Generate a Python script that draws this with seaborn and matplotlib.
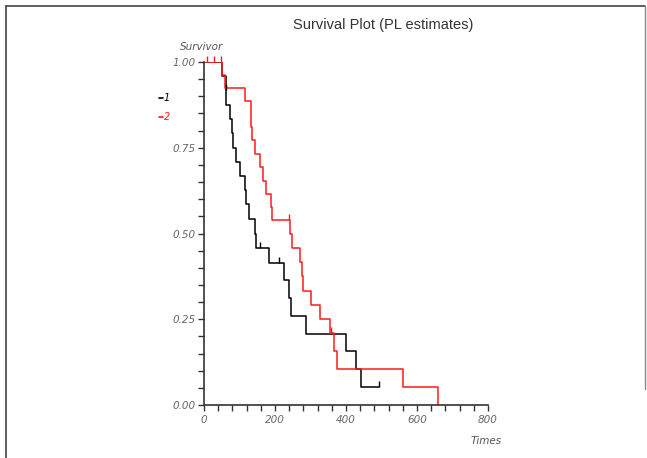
import pandas as pd
import matplotlib.pyplot as plt
import matplotlib.lines as mlines
import seaborn as sns
from matplotlib.ticker import MultipleLocator

# ---- data (PL / Kaplan-Meier steps) ----
time_1 = [0, 51, 61, 63, 74, 80, 83, 89, 100, 116, 118, 127, 144, 146,
          184, 224, 239, 244, 288, 400, 427, 443, 493]
surv_1 = [1.000, 0.958, 0.917, 0.875, 0.833, 0.792, 0.750, 0.709, 0.668, 0.627, 0.585, 0.542, 0.500, 0.459,
          0.415, 0.364, 0.311, 0.259, 0.208, 0.157, 0.105, 0.052, 0.052]
cens_t1 = [62, 159, 210, 493]
cens_s1 = [0.917, 0.459, 0.415, 0.052]

time_2 = [0, 51, 58, 116, 131, 133, 135, 144, 157, 165, 174, 189, 191,
          241, 248, 270, 275, 280, 300, 327, 354, 367, 376, 561, 660]
surv_2 = [1.000, 0.962, 0.923, 0.886, 0.848, 0.810, 0.773, 0.732, 0.693, 0.654, 0.616, 0.578, 0.539,
          0.500, 0.457, 0.418, 0.376, 0.333, 0.292, 0.251, 0.209, 0.157, 0.105, 0.053, 0.000]
cens_t2 = [9, 28, 47, 240, 357]
cens_s2 = [1.0, 1.0, 1.0, 0.539, 0.209]

x_ticks = [0, 200, 400, 600, 800]
y_ticks = [0.00, 0.25, 0.50, 0.75, 1.00]

df = pd.concat([
    pd.DataFrame({"time": time_1, "surv": surv_1, "group": "1"}),
    pd.DataFrame({"time": time_2, "surv": surv_2, "group": "2"}),
])
colors = {"1": "black", "2": "#ff1a1a"}

sns.set_style("white")
plt.rcParams["font.family"] = ["DejaVu Sans"]

fig = plt.figure(figsize=(6.47, 4.58), dpi=100)
ax = fig.add_axes([0.3153, 0.1157, 0.4390, 0.7489])

sns.lineplot(data=df, x="time", y="surv", hue="group", palette=colors,
             estimator=None, drawstyle="steps-post", linewidth=1.1, legend=False, ax=ax)

# censored marks (small ticks pointing up)
ax.plot(cens_t1, cens_s1, linestyle="none", marker=2, ms=4, mew=1.0, color=colors["1"], clip_on=False)
ax.plot(cens_t2, cens_s2, linestyle="none", marker=2, ms=4, mew=1.0, color=colors["2"], clip_on=False)

ax.set_xlim(0, 800)
ax.set_ylim(0, 1)
ax.set_xticks(x_ticks)
ax.set_yticks(y_ticks)
ax.xaxis.set_minor_locator(MultipleLocator(40))
ax.yaxis.set_minor_locator(MultipleLocator(0.05))
ax.set_xticklabels([str(v) for v in x_ticks])
ax.set_yticklabels([f"{v:.2f}" for v in y_ticks])

for s in ["top", "right"]:
    ax.spines[s].set_visible(False)
for s in ["left", "bottom"]:
    ax.spines[s].set_color("#333333")
    ax.spines[s].set_linewidth(1.2)

ax.tick_params(which="both", direction="out", length=4, width=1.0, color="#333333",
               bottom=True, left=True)
ax.tick_params(axis="both", labelsize=7.5, labelcolor="#666666")
ax.tick_params(axis="x", pad=3)
ax.tick_params(axis="y", pad=2)
for lab in ax.get_xticklabels() + ax.get_yticklabels():
    lab.set_fontstyle("italic")

ax.set_xlabel("")
ax.set_ylabel("")

# axis titles placed like the original
fig.text(0.278, 0.897, "Survivor", fontsize=7.5, style="italic", color="#555555", ha="left", va="center")
fig.text(0.775, 0.038, "Times", fontsize=7.5, style="italic", color="#555555", ha="right", va="center")
fig.text(0.592, 0.945, "Survival Plot (PL estimates)", fontsize=10.5, color="#333333",
         ha="center", va="center", family=["Liberation Sans", "DejaVu Sans"], stretch="condensed")

# legend
handles = [mlines.Line2D([], [], color=colors[g], lw=1.2) for g in ["1", "2"]]
leg = fig.legend(handles, ["1", "2"], loc="upper left", bbox_to_anchor=(0.232, 0.815),
                 frameon=False, handlelength=0.4, handletextpad=0.1, labelspacing=0.9,
                 prop={"size": 7, "style": "italic"})
for txt, g in zip(leg.get_texts(), ["1", "2"]):
    txt.set_color(colors[g])

# page frame
fig.add_artist(mlines.Line2D([0.009, 0.997], [0.987, 0.987], color="#444444", lw=1.2))
fig.add_artist(mlines.Line2D([0.009, 0.009], [0.987, 0.0], color="#444444", lw=1.2))
fig.add_artist(mlines.Line2D([0.997, 0.997], [0.987, 0.15], color="#888888", lw=1.0))

fig.savefig("out.png", dpi=100)
